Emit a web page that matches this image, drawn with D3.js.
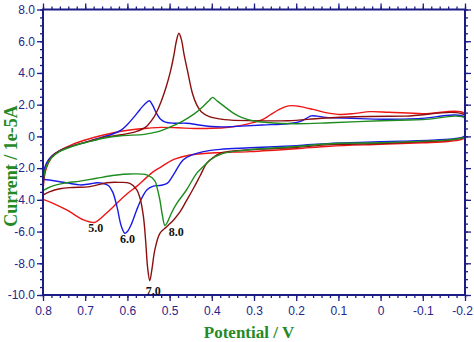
<!DOCTYPE html>
<html>
<head>
<meta charset="utf-8">
<script src="https://cdn.jsdelivr.net/npm/d3@7/dist/d3.min.js"></script>
<style>
  html, body { margin: 0; padding: 0; background: #fff; }
  svg { display: block; }
</style>
</head>
<body>
<svg id="chart" width="474" height="342"></svg>
<script>
// ---- data (potential V, current 1e-5 A), traced as closed loops ----
const xTickValues = [0.8, 0.7, 0.6, 0.5, 0.4, 0.3, 0.2, 0.1, 0, -0.1, -0.2];
const xTickLabels = ["0.8","0.7","0.6","0.5","0.4","0.3","0.2","0.1","0","-0.1","-0.2"];
const yTickValues = [8, 6, 4, 2, 0, -2, -4, -6, -8, -10];
const yTickLabels = ["8.0","6.0","4.0","2.0","0","-2.0","-4.0","-6.0","-8.0","-10.0"];

const seriesNames = ["5.0", "6.0", "7.0", "8.0"];

const pH5 = [[0.8,-3.97],[0.798,-2.8],[0.792,-2.0],[0.78,-1.35],[0.76,-0.9],[0.73,-0.5],[0.69,-0.15],[0.654,0.1],[0.615,0.32],[0.58,0.45],[0.55,0.52],[0.52,0.57],[0.48,0.54],[0.44,0.5],[0.4,0.51],[0.36,0.58],[0.333,0.68],[0.3,0.88],[0.28,1.05],[0.262,1.35],[0.24,1.7],[0.225,1.88],[0.21,1.94],[0.19,1.88],[0.16,1.7],[0.13,1.5],[0.095,1.38],[0.06,1.45],[0.025,1.56],[-0.02,1.52],[-0.1,1.43],[-0.2,1.42],
  [-0.2,-0.05],[-0.19,-0.2],[-0.16,-0.32],[-0.1,-0.4],[0.0,-0.5],[0.12,-0.62],[0.2,-0.78],[0.31,-0.96],[0.39,-1.03],[0.452,-1.17],[0.49,-1.45],[0.507,-1.7],[0.525,-2.0],[0.54,-2.25],[0.555,-2.6],[0.578,-3.15],[0.6,-3.6],[0.625,-4.22],[0.65,-4.85],[0.677,-5.42],[0.69,-5.38],[0.704,-5.27],[0.744,-4.64],[0.776,-4.22],[0.8,-3.97]];

const pH6 = [[0.8,-2.75],[0.798,-2.2],[0.792,-1.7],[0.78,-1.25],[0.76,-0.9],[0.73,-0.6],[0.69,-0.3],[0.66,-0.05],[0.635,0.15],[0.615,0.4],[0.6,0.75],[0.585,1.2],[0.57,1.7],[0.556,2.1],[0.548,2.25],[0.54,1.95],[0.532,1.5],[0.522,1.1],[0.51,0.9],[0.49,0.83],[0.46,0.83],[0.43,0.72],[0.4,0.62],[0.37,0.6],[0.33,0.65],[0.28,0.72],[0.22,0.8],[0.19,0.95],[0.175,1.15],[0.165,1.29],[0.15,1.28],[0.13,1.2],[0.07,1.14],[-0.01,1.08],[-0.09,1.12],[-0.2,1.2],
  [-0.2,0.05],[-0.19,-0.08],[-0.17,-0.16],[-0.12,-0.24],[-0.05,-0.3],[0.05,-0.38],[0.12,-0.44],[0.2,-0.58],[0.31,-0.72],[0.38,-0.82],[0.42,-0.96],[0.445,-1.15],[0.468,-1.49],[0.491,-2.43],[0.505,-2.95],[0.52,-3.08],[0.54,-3.15],[0.554,-3.38],[0.566,-3.9],[0.578,-4.64],[0.59,-5.5],[0.6,-6.0],[0.606,-6.11],[0.614,-5.7],[0.625,-4.4],[0.635,-3.5],[0.645,-3.1],[0.66,-2.95],[0.672,-2.92],[0.69,-3.0],[0.712,-3.06],[0.74,-2.95],[0.76,-2.86],[0.785,-2.75],[0.8,-2.7]];

const pH7 = [[0.8,-3.7],[0.798,-2.6],[0.792,-1.9],[0.78,-1.3],[0.76,-0.9],[0.73,-0.6],[0.69,-0.3],[0.654,-0.05],[0.615,0.1],[0.58,0.3],[0.556,0.6],[0.54,1.1],[0.532,1.46],[0.52,2.2],[0.508,3.13],[0.498,4.1],[0.49,5.1],[0.484,6.0],[0.478,6.5],[0.472,6.1],[0.466,5.2],[0.458,4.19],[0.446,2.72],[0.436,2.0],[0.425,1.55],[0.406,1.24],[0.37,1.06],[0.3,0.99],[0.22,0.99],[0.14,1.14],[0.06,1.24],[-0.06,1.28],[-0.2,1.32],
  [-0.2,0.0],[-0.19,-0.13],[-0.16,-0.25],[-0.1,-0.33],[0.0,-0.45],[0.12,-0.52],[0.2,-0.7],[0.31,-0.84],[0.36,-0.95],[0.381,-1.07],[0.395,-1.3],[0.412,-1.7],[0.428,-2.5],[0.444,-3.3],[0.46,-4.05],[0.475,-4.75],[0.49,-5.25],[0.507,-5.69],[0.523,-6.11],[0.535,-7.16],[0.542,-8.4],[0.547,-9.1],[0.552,-8.3],[0.557,-6.5],[0.562,-5.06],[0.57,-3.9],[0.578,-3.35],[0.594,-2.96],[0.62,-2.9],[0.649,-2.92],[0.689,-3.17],[0.73,-3.22],[0.76,-3.3],[0.785,-3.5],[0.8,-3.7]];

const pH8 = [[0.8,-3.42],[0.798,-2.5],[0.792,-1.9],[0.78,-1.35],[0.76,-0.95],[0.73,-0.62],[0.69,-0.33],[0.654,-0.1],[0.615,0.04],[0.56,0.13],[0.53,0.28],[0.5,0.58],[0.47,0.95],[0.44,1.45],[0.42,1.9],[0.405,2.3],[0.398,2.46],[0.388,2.25],[0.366,1.8],[0.345,1.4],[0.33,1.2],[0.3,0.97],[0.27,0.88],[0.2,0.8],[0.12,0.86],[0.0,0.99],[-0.1,1.06],[-0.2,1.14],
  [-0.2,0.0],[-0.19,-0.12],[-0.16,-0.22],[-0.1,-0.3],[0.0,-0.4],[0.12,-0.46],[0.2,-0.64],[0.317,-0.86],[0.373,-1.07],[0.404,-1.49],[0.42,-1.9],[0.436,-2.33],[0.46,-3.38],[0.483,-4.22],[0.495,-4.8],[0.505,-5.4],[0.511,-5.62],[0.517,-5.0],[0.523,-4.01],[0.53,-3.2],[0.535,-2.8],[0.554,-2.43],[0.594,-2.37],[0.63,-2.45],[0.673,-2.64],[0.712,-2.82],[0.752,-2.96],[0.78,-3.15],[0.8,-3.42]];

const seriesData = [pH5, pH6, pH7, pH8];
const seriesColors = ["#ee1515", "#1a1ae6", "#8b0f0f", "#1e8c1e"];
// label anchor points (V, I) for the pH annotations
const labelPos = [[0.675,-6.0],[0.6,-6.75],[0.539,-10.0],[0.484,-6.3]];

// ---- layout ----
const svg = d3.select("#chart");
const M = {left: 43, right: 465, top: 9.5, bottom: 295};
const x = d3.scaleLinear().domain([0.8, -0.2]).range([M.left, M.right]);
const y = d3.scaleLinear().domain([-10, 8]).range([M.bottom, M.top]);
const navy = "#1c1c86";

svg.append("defs").append("clipPath").attr("id", "clip")
  .append("rect").attr("x", M.left).attr("y", M.top)
  .attr("width", M.right - M.left).attr("height", M.bottom - M.top);

const line = d3.line().x(d => x(d[0])).y(d => y(d[1])).curve(d3.curveCatmullRom.alpha(0.5));

const plot = svg.append("g").attr("clip-path", "url(#clip)");
seriesData.forEach((s, i) => {
  plot.append("path").attr("d", line(s)).attr("fill", "none")
    .attr("stroke", seriesColors[i]).attr("stroke-width", 1.4)
    .attr("stroke-linejoin", "round");
});

// ---- axes ----
const xMinor = d3.range(0, 51).map(i => +(0.8 - i * 0.02).toFixed(3));
const yMinor = d3.range(0, 37).map(i => -10 + i * 0.5);
const fmtX = d => xTickLabels[xTickValues.indexOf(d)];
const fmtY = d => yTickLabels[yTickValues.indexOf(d)];

function styleAxis(g) {
  g.selectAll(".domain").remove();
  g.selectAll("line").attr("stroke", navy).attr("stroke-width", 1.3);
  g.selectAll("text").attr("fill", "#26268a")
    .style("font-family", "'Liberation Sans Narrow','Arial Narrow','Liberation Sans',Arial,sans-serif")
    .style("font-size", "12px");
}

// minor ticks
svg.append("g").attr("transform", `translate(0,${M.bottom})`)
  .call(d3.axisBottom(x).tickValues(xMinor).tickSize(3).tickFormat("")).call(styleAxis);
svg.append("g").attr("transform", `translate(0,${M.top})`)
  .call(d3.axisTop(x).tickValues(xMinor).tickSize(3).tickFormat("")).call(styleAxis);
svg.append("g").attr("transform", `translate(${M.left},0)`)
  .call(d3.axisLeft(y).tickValues(yMinor).tickSize(3).tickFormat("")).call(styleAxis);
svg.append("g").attr("transform", `translate(${M.right},0)`)
  .call(d3.axisRight(y).tickValues(yMinor).tickSize(3).tickFormat("")).call(styleAxis);
// major ticks
const xAxisG = svg.append("g").attr("transform", `translate(0,${M.bottom})`)
  .call(d3.axisBottom(x).tickValues(xTickValues).tickSize(6).tickPadding(5).tickFormat(fmtX)).call(styleAxis);
// keep the last label inside the window
xAxisG.selectAll(".tick text").filter(d => d === -0.2).attr("dx", "-3");
svg.append("g").attr("transform", `translate(0,${M.top})`)
  .call(d3.axisTop(x).tickValues(xTickValues).tickSize(6).tickFormat("")).call(styleAxis);
svg.append("g").attr("transform", `translate(${M.left},0)`)
  .call(d3.axisLeft(y).tickValues(yTickValues).tickSize(6).tickPadding(2).tickFormat(fmtY)).call(styleAxis);
svg.append("g").attr("transform", `translate(${M.right},0)`)
  .call(d3.axisRight(y).tickValues(yTickValues).tickSize(6).tickFormat("")).call(styleAxis);

// frame
svg.append("rect").attr("x", M.left).attr("y", M.top)
  .attr("width", M.right - M.left).attr("height", M.bottom - M.top)
  .attr("fill", "none").attr("stroke", navy).attr("stroke-width", 2);

// ---- annotations ----
seriesNames.forEach((n, i) => {
  svg.append("text").attr("x", x(labelPos[i][0])).attr("y", y(labelPos[i][1]))
    .attr("text-anchor", "middle").attr("fill", "#111")
    .style("font-family", "'Liberation Serif','Times New Roman',serif")
    .style("font-weight", "bold").style("font-size", "12px").text(n);
});

// ---- titles ----
svg.append("text").attr("x", 249).attr("y", 338)
  .attr("text-anchor", "middle").attr("fill", "#258a25")
  .style("font-family", "'Liberation Serif','Times New Roman',serif")
  .style("font-weight", "bold").style("font-size", "17px").text("Potential / V");
svg.append("text").attr("transform", "translate(16.5,166) rotate(-90)")
  .attr("text-anchor", "middle").attr("fill", "#258a25")
  .style("font-family", "'Liberation Serif','Times New Roman',serif")
  .style("font-weight", "bold").style("font-size", "18px").text("Current / 1e-5A");
</script>
</body>
</html>
